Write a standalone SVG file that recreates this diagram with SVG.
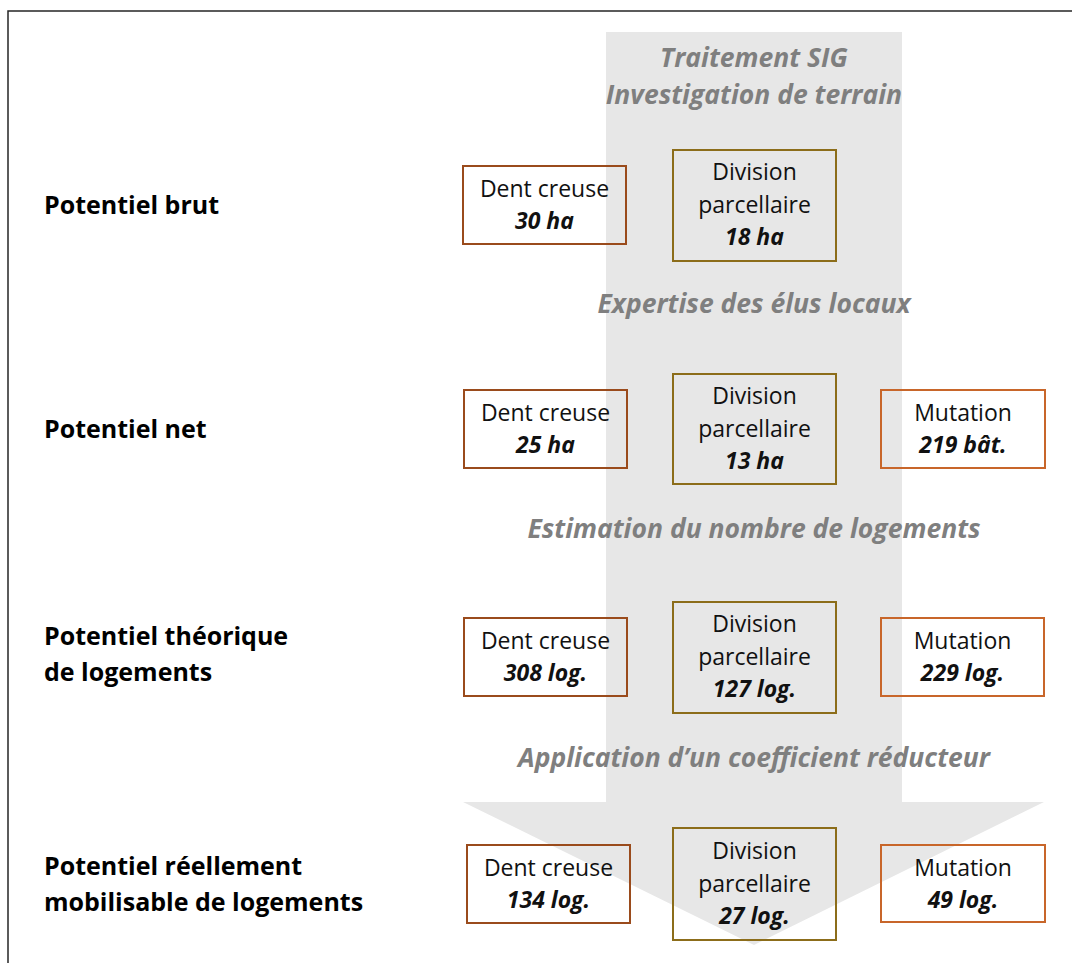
<svg xmlns="http://www.w3.org/2000/svg" width="1072" height="963" viewBox="0 0 1072 963">
<style>
.lbl{font-family:"Open Sans","Liberation Sans",sans-serif;font-weight:bold;font-size:25px;fill:#000}
.step{font-family:"Open Sans","Liberation Sans",sans-serif;font-weight:bold;font-style:italic;font-size:26.5px;fill:#7F7F7F;text-anchor:middle}
.t{font-family:"Open Sans","Liberation Sans",sans-serif;font-size:23px;fill:#111;text-anchor:middle}
.v{font-family:"Open Sans","Liberation Sans",sans-serif;font-size:23px;font-weight:bold;font-style:italic;fill:#111;text-anchor:middle}
.dc{fill:none;stroke:#9A4B1C;stroke-width:2}
.dp{fill:none;stroke:#8C6D1A;stroke-width:2}
.mu{fill:none;stroke:#C8662A;stroke-width:2}
</style>
<rect width="1072" height="963" fill="#fff"/>
<path d="M8 963 V11 H1072" fill="none" stroke="#262626" stroke-width="1.5"/>
<g id="arrow">
<polygon points="606,32 902,32 902,802 1044,802 754,945 463,802 606,802" fill="#E7E7E7"/>
</g>
<g id="steps">
<text class="step" x="754" y="67">Traitement SIG</text>
<text class="step" x="754" y="104">Investigation de terrain</text>
<text class="step" x="754" y="313">Expertise des élus locaux</text>
<text class="step" x="754" y="538">Estimation du nombre de logements</text>
<text class="step" x="754" y="767">Application d’un coefficient réducteur</text>
</g>
<g id="labels">
<text class="lbl" x="44" y="214">Potentiel brut</text>
<text class="lbl" x="44" y="438">Potentiel net</text>
<text class="lbl" x="44" y="645">Potentiel théorique</text>
<text class="lbl" x="44" y="681">de logements</text>
<text class="lbl" x="44" y="875">Potentiel réellement</text>
<text class="lbl" x="44" y="911">mobilisable de logements</text>
</g>
<g id="r1-dc"><rect class="dc" x="463" y="166" width="163" height="78"/><text class="t" x="544.5" y="197">Dent creuse</text><text class="v" x="544.5" y="229">30 ha</text></g>
<g id="r1-dp"><rect class="dp" x="673" y="150" width="163" height="111"/><text class="t" x="754.5" y="180">Division</text><text class="t" x="754.5" y="213">parcellaire</text><text class="v" x="754.5" y="245">18 ha</text></g>
<g id="r2-dc"><rect class="dc" x="464" y="390" width="163" height="78"/><text class="t" x="545.5" y="421">Dent creuse</text><text class="v" x="545.5" y="453">25 ha</text></g>
<g id="r2-dp"><rect class="dp" x="673" y="374" width="163" height="110"/><text class="t" x="754.5" y="404">Division</text><text class="t" x="754.5" y="437">parcellaire</text><text class="v" x="754.5" y="469">13 ha</text></g>
<g id="r2-mu"><rect class="mu" x="881" y="390" width="164" height="78"/><text class="t" x="963" y="421">Mutation</text><text class="v" x="963" y="453">219 bât.</text></g>
<g id="r3-dc"><rect class="dc" x="464" y="618" width="163" height="78"/><text class="t" x="545.5" y="649">Dent creuse</text><text class="v" x="545.5" y="681">308 log.</text></g>
<g id="r3-dp"><rect class="dp" x="673" y="602" width="163" height="111"/><text class="t" x="754.5" y="632">Division</text><text class="t" x="754.5" y="665">parcellaire</text><text class="v" x="754.5" y="697">127 log.</text></g>
<g id="r3-mu"><rect class="mu" x="881" y="618" width="163" height="78"/><text class="t" x="962.5" y="649">Mutation</text><text class="v" x="962.5" y="681">229 log.</text></g>
<g id="r4-dc"><rect class="dc" x="467" y="845" width="163" height="78"/><text class="t" x="548.5" y="876">Dent creuse</text><text class="v" x="548.5" y="908">134 log.</text></g>
<g id="r4-dp"><rect class="dp" x="673" y="828" width="163" height="112"/><text class="t" x="754.5" y="859">Division</text><text class="t" x="754.5" y="892">parcellaire</text><text class="v" x="754.5" y="924">27 log.</text></g>
<g id="r4-mu"><rect class="mu" x="881" y="845" width="164" height="77"/><text class="t" x="963" y="876">Mutation</text><text class="v" x="963" y="908">49 log.</text></g>
<g id="connectors"></g>
</svg>
